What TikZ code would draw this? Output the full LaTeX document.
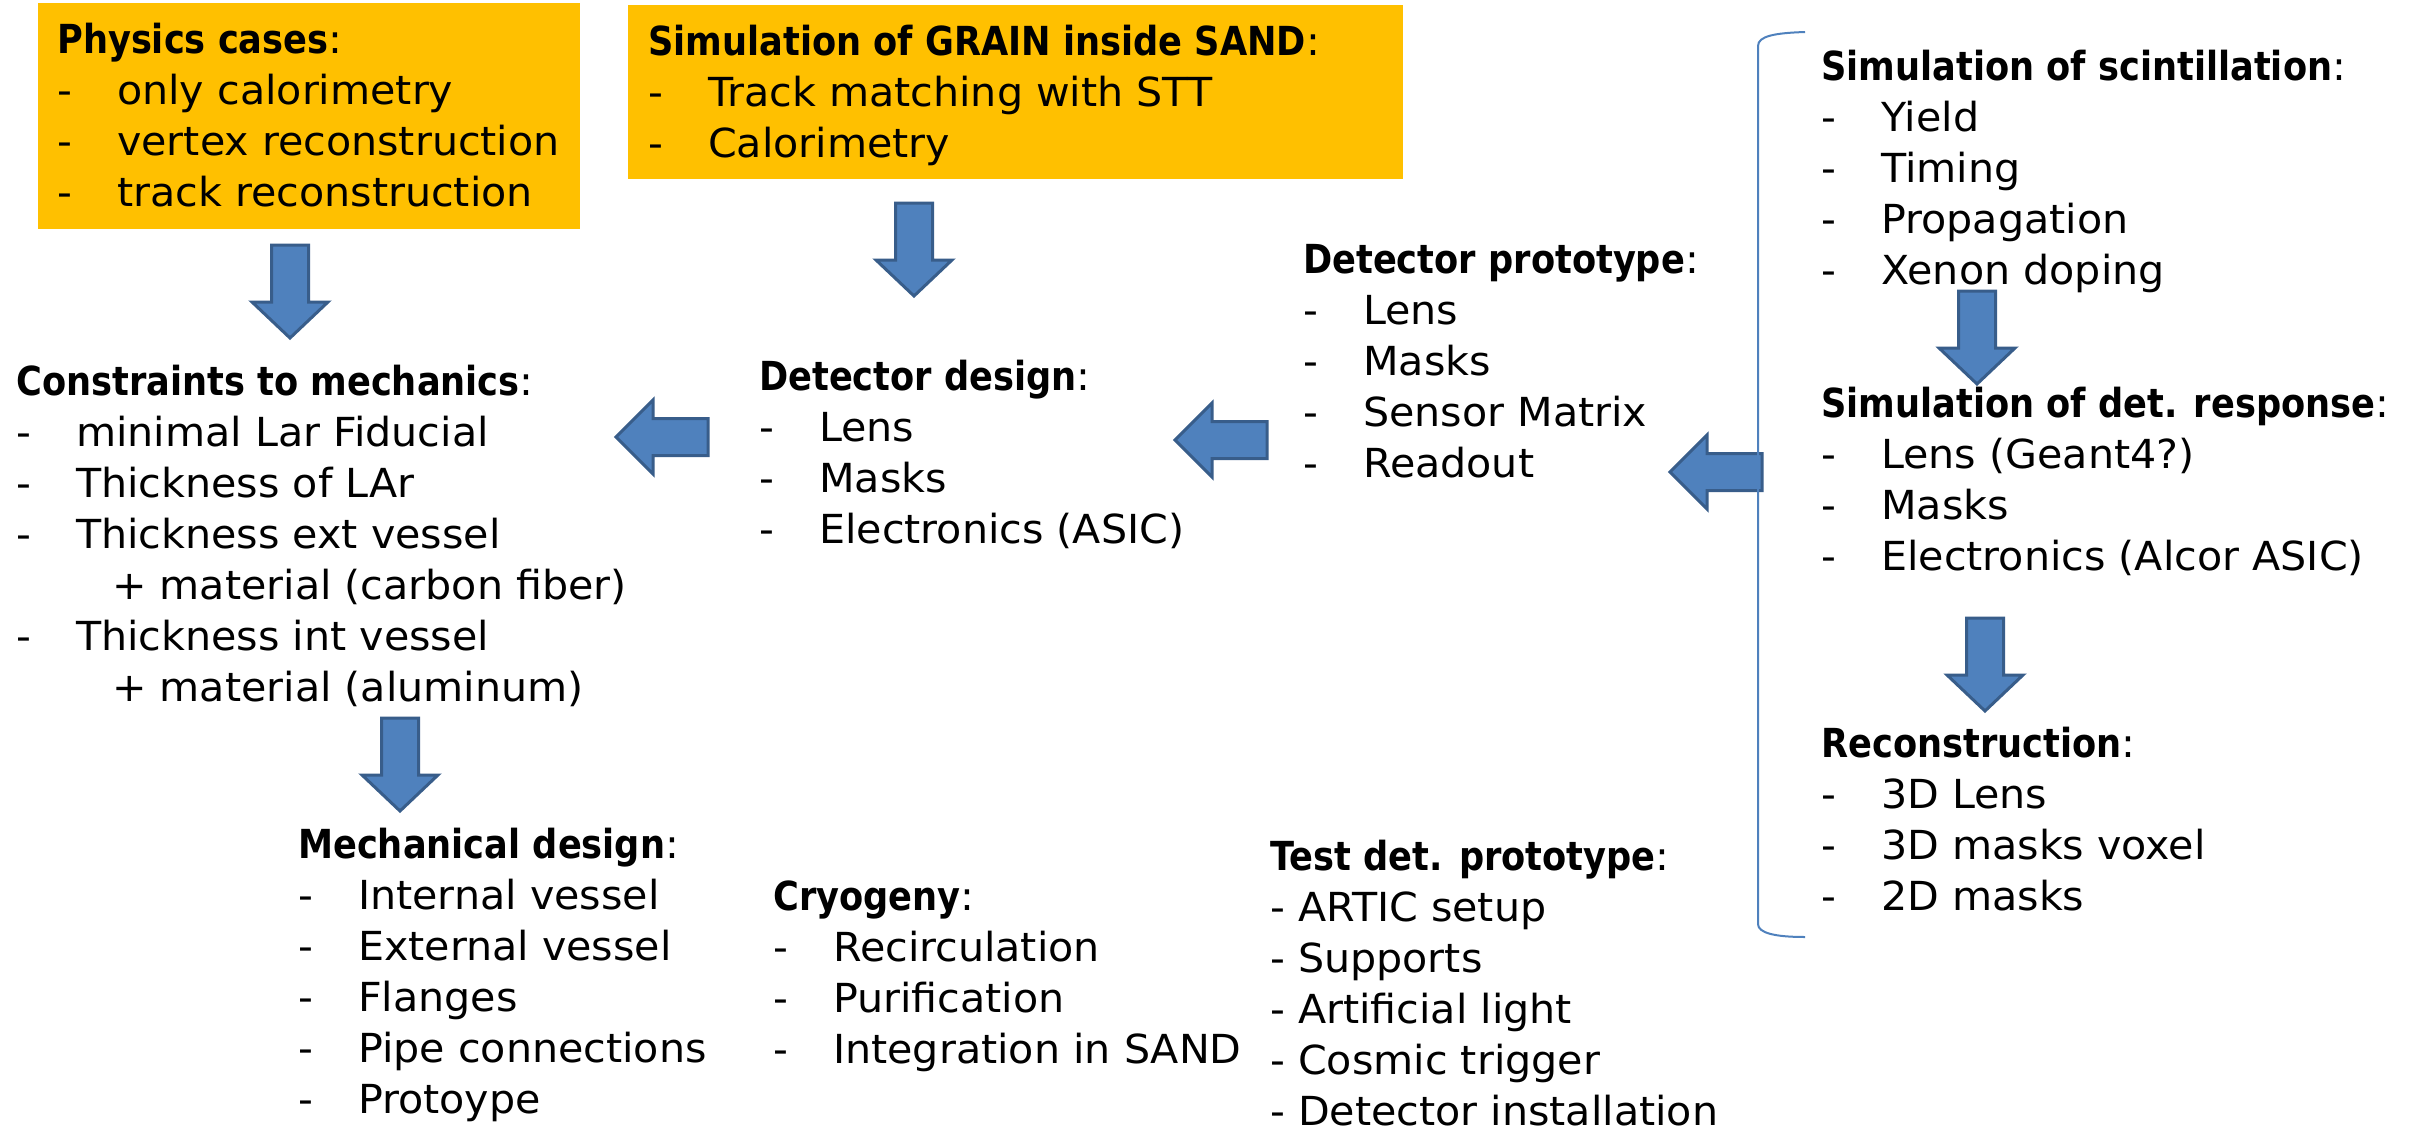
\documentclass[tikz,border=0pt]{standalone}
\usepackage{fontspec}
\setmainfont{DejaVu Sans}[FakeStretch=1.03, BoldFeatures={FakeStretch=0.88}]
\definecolor{boxorange}{HTML}{FFC000}
\definecolor{arrowfill}{HTML}{4F81BD}
\definecolor{arrowline}{HTML}{385D8A}
\newcommand\dd[1]{\makebox[60pt][l]{-}#1}
\begin{document}
\begin{tikzpicture}[x=1pt,y=-1pt,
  blk/.style={anchor=base west, inner sep=0pt, align=left, font=\fontsize{40}{51}\selectfont},
  orangebox/.style={fill=boxorange},
  arrowstyle/.style={fill=arrowfill, draw=arrowline, line width=3pt, line join=miter},
  bracketline/.style={draw=arrowfill, line width=2pt},
  darr/.pic={\draw[arrowstyle] (-18.5,0) -- (18.5,0) -- (18.5,57) -- (38,57) -- (0,93) -- (-38,57) -- (-18.5,57) -- cycle;},
  larr/.pic={\draw[arrowstyle] (0,0) -- (37,-37) -- (37,-18.5) -- (92,-18.5) -- (92,18.5) -- (37,18.5) -- (37,37) -- cycle;}]
\useasboundingbox (0,0) rectangle (2435,1127);
\fill[white] (0,0) rectangle (2435,1127);

% orange boxes
\fill[orangebox] (38,3) rectangle (580,229);
\fill[orangebox] (628,5) rectangle (1403,179);

% text blocks (anchor = baseline of the last line)
\node[blk] (phys) at (57,206) {\textbf{Physics cases}:\\ \dd{only calorimetry}\\ \dd{vertex reconstruction}\\ \dd{track reconstruction}};
\node[blk] (grain) at (648,157) {\textbf{Simulation of GRAIN inside SAND}:\\ \dd{Track matching with STT}\\ \dd{Calorimetry}};
\node[blk] (sci) at (1821,284) {\textbf{Simulation of scintillation}:\\ \dd{Yield}\\ \dd{Timing}\\ \dd{Propagation}\\ \dd{Xenon doping}};
\node[blk] (resp) at (1821,570) {\textbf{Simulation of det. response}:\\ \dd{Lens (Geant4?)}\\ \dd{Masks}\\ \dd{Electronics (Alcor ASIC)}};
\node[blk] (recon) at (1821,910) {\textbf{Reconstruction}:\\ \dd{3D Lens}\\ \dd{3D masks voxel}\\ \dd{2D masks}};
\node[blk] (proto) at (1303,477) {\textbf{Detector prototype}:\\ \dd{Lens}\\ \dd{Masks}\\ \dd{Sensor Matrix}\\ \dd{Readout}};
\node[blk] (design) at (759,543) {\textbf{Detector design}:\\ \dd{Lens}\\ \dd{Masks}\\ \dd{Electronics (ASIC)}};
\node[blk] (constr) at (16,701) {\textbf{Constraints to mechanics}:\\ \dd{minimal Lar Fiducial}\\ \dd{Thickness of LAr}\\ \dd{Thickness ext vessel}\\ \hspace{96pt}+ material (carbon fiber)\\ \dd{Thickness int vessel}\\ \hspace{96pt}+ material (aluminum)};
\node[blk] (mech) at (298,1113) {\textbf{Mechanical design}:\\ \dd{Internal vessel}\\ \dd{External vessel}\\ \dd{Flanges}\\ \dd{Pipe connections}\\ \dd{Protoype}};
\node[blk] (cryo) at (773,1063) {\textbf{Cryogeny}:\\ \dd{Recirculation}\\ \dd{Purification}\\ \dd{Integration in SAND}};
\node[blk] (test) at (1270,1125) {\textbf{Test det. prototype}:\\ - ARTIC setup\\ - Supports\\ - Artificial light\\ - Cosmic trigger\\ - Detector installation};

% block arrows
\pic (a1) at (290,245) {darr};
\pic (a2) at (914,203) {darr};
\pic (a3) at (1977,291) {darr};
\pic (a4) at (1985,618) {darr};
\pic (a5) at (400,718) {darr};
\pic (a6) at (616,437) {larr};
\pic (a7) at (1175,440) {larr};
\pic (a8) at (1670,472) {larr};

% bracket
\draw[bracketline] (1805,32) .. controls (1775,33) and (1758,36) .. (1758,46) -- (1758,924) .. controls (1758,933) and (1775,937) .. (1805,937);
\end{tikzpicture}
\end{document}
